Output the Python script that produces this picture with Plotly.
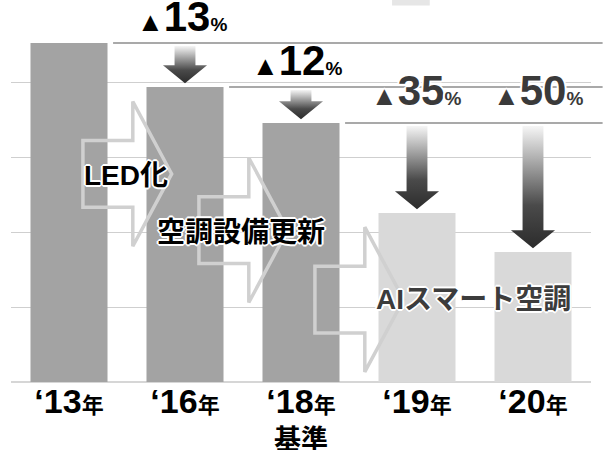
import plotly.graph_objects as go

# ---- data ----
years = ["13", "16", "18", "19", "20"]
values = [90.4, 78.7, 69.1, 45.1, 34.7]          # index
reduction_pct = [None, 13, 12, 35, 50]            # ▲ reduction labels
reduction_ref = [None, 0, 1, 2, 2]                # compared against this year
measures = ["LED化", "空調設備更新", "AIスマート空調"]
measure_center_y = [55.5, 40.5, 22.0]
base_label = "基準"
base_index = 2

DARK_BAR = "#a3a3a3"
LIGHT_BAR = "#d9d9d9"
FONT = "Liberation Sans, Arial, Noto Sans CJK JP, sans-serif"
CJK = "Noto Sans CJK JP, sans-serif"
OUTLINE = "-1px -1px 0 #fff, 1px -1px 0 #fff, -1px 1px 0 #fff, 1px 1px 0 #fff, 0 2px 0 #fff, 0 -2px 0 #fff, 2px 0 0 #fff, -2px 0 0 #fff"

xs = list(range(len(years)))
bar_colors = [DARK_BAR if i <= base_index else LIGHT_BAR for i in xs]

fig = go.Figure()
fig.add_trace(go.Bar(x=xs, y=values, marker=dict(color=bar_colors, line=dict(width=0)),
                     width=0.664, hoverinfo="skip", showlegend=False))

shapes = []
annotations = []

# reference lines (level of compared year) and gradient down-arrows
drawn_refs = set()
for i in xs:
    r = reduction_ref[i]
    if r is None:
        continue
    if r not in drawn_refs:
        drawn_refs.add(r)
        shapes.append(dict(type="line", xref="paper", yref="y",
                           x0=(r + 0.38 + 0.5) / len(xs), x1=1.02,
                           y0=values[r], y1=values[r],
                           line=dict(color="#8c8c8c", width=1.5), layer="above"))
    top = values[r] - 0.8
    tip = values[i] + 1.0
    head = tip + 4.8
    sw, hw = 0.09, 0.19
    ax = [i - sw, i + sw, i + sw, i + hw, i, i - hw, i - sw, i - sw]
    ay = [top, top, head, head, tip, head, head, top]
    fig.add_trace(go.Scatter(x=ax, y=ay, mode="lines", fill="toself",
                             line=dict(width=0, color="rgba(0,0,0,0)"),
                             fillgradient=dict(type="vertical", start=tip, stop=top,
                                               colorscale=[[0, "#2c2c2c"], [0.35, "#4a4a4a"], [1, "#f6f6f6"]]),
                             hoverinfo="skip", showlegend=False))
    # percentage label
    dark = i <= base_index
    col = "#000000" if dark else "#3a3a3a"
    yshift = 1 if dark else 7
    xshift = {1: -3, 2: -4, 3: -1, 4: 5}[i]
    annotations.append(dict(
        x=i, y=values[r], xref="x", yref="y", xanchor="center", yanchor="bottom",
        yshift=yshift, xshift=xshift, showarrow=False,
        text=f"<span style='font-size:27px'>▲</span>{reduction_pct[i]}<span style='font-size:19px'>%</span>",
        font=dict(family=FONT, size=42, color=col, weight="bold", shadow=OUTLINE)))

# big outlined arrows for measures (between consecutive years)
for k, name in enumerate(measures):
    i = k
    cy = measure_center_y[k]
    x_s, x_h, x_t = i + 0.12, i + 0.55, i + 0.885
    sh, hh = 8.9, 19.3
    path = (f"M {x_s} {cy - sh} L {x_h} {cy - sh} L {x_h} {cy - hh} L {x_t} {cy} "
            f"L {x_h} {cy + hh} L {x_h} {cy + sh} L {x_s} {cy + sh} Z")
    shapes.append(dict(type="path", xref="x", yref="y", path=path,
                       line=dict(color="#d0d0d0", width=3.5), fillcolor="rgba(0,0,0,0)",
                       layer="above"))

label_pos = [(0.49, 55.0), (1.48, 40.0), (3.49, 22.0)]
label_col = ["#000000", "#000000", "#3c3c3c"]
for k, name in enumerate(measures):
    annotations.append(dict(x=label_pos[k][0], y=label_pos[k][1], xref="x", yref="y",
                            text=name, showarrow=False, xanchor="center", yanchor="middle",
                            font=dict(family=FONT, size=28, color=label_col[k], weight="bold",
                                      shadow=OUTLINE)))

# base label under '18
annotations.append(dict(x=base_index, y=-0.148, xref="x", yref="paper", text=base_label,
                        showarrow=False, xanchor="center", yanchor="middle",
                        font=dict(family=CJK, size=27, color="#000", weight="bold")))

# small cropped remnant at top
shapes.append(dict(type="rect", xref="paper", yref="paper", x0=0.657, x1=0.722,
                   y0=1.004, y1=1.03, line=dict(width=0), fillcolor="#e6e6e6", layer="below"))

ticktext = [f"‘{y}<span style='font-size:22px'>年</span>" for y in years]

fig.update_layout(
    width=606, height=450,
    margin=dict(l=11, r=15, t=7, b=68),
    paper_bgcolor="white", plot_bgcolor="white",
    shapes=shapes, annotations=annotations,
    xaxis=dict(range=[-0.5, 4.5], tickvals=xs, ticktext=ticktext, showgrid=False,
               zeroline=False, showline=False, ticks="", ticklabelstandoff=-4,
               tickfont=dict(family=FONT, size=34, color="#000", weight="bold")),
    yaxis=dict(range=[0, 100], dtick=20, showticklabels=False, gridcolor="#cfcfcf",
               gridwidth=1.2, zeroline=True, zerolinecolor="#d6d6d6", zerolinewidth=1.5,
               fixedrange=True),
)

fig.write_html("out.html")
